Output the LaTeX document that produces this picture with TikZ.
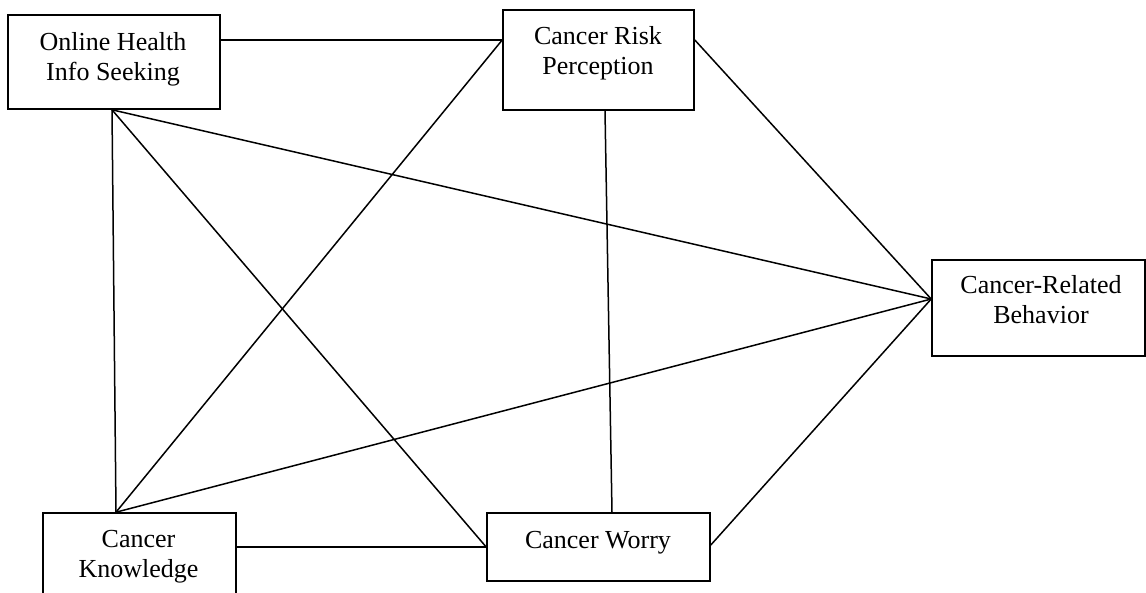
\documentclass[tikz,border=0pt]{standalone}
\usepackage{fontspec}
\setmainfont{Liberation Serif}
\begin{document}
\begin{tikzpicture}[x=1pt,y=-1pt,
  box/.style={draw=black,line width=1.6pt,rectangle,inner sep=0pt,fill=none},
  lbl/.style={inner sep=0pt,align=center,font=\fontsize{26}{30}\selectfont},
  conn/.style={draw=black,line width=1.5pt}]
\useasboundingbox (0,0) rectangle (1146,592);
\clip (0,0) rectangle (1146,592);
% boxes
\node[box,minimum width=212pt,minimum height=94pt] (on) at (114,62) {};
\node[box,minimum width=191pt,minimum height=100pt] (rp) at (598.5,60) {};
\node[box,minimum width=213pt,minimum height=96pt] (be) at (1038.5,308) {};
\node[box,minimum width=193pt,minimum height=100pt] (kn) at (139.5,563) {};
\node[box,minimum width=223pt,minimum height=68pt] (wo) at (598.5,547) {};
% labels
\node[lbl] (onT) at (113,59) {Online Health\\Info Seeking};
\node[lbl] (rpT) at (598,53) {Cancer Risk\\Perception};
\node[lbl] (beT) at (1041,299.5) {Cancer-Related\\Behavior};
\node[lbl] (knT) at (138.5,557) {Cancer\\Knowledge};
\node[lbl] (woT) at (598,542.5) {Cancer Worry};
% attachment points
\coordinate (onE) at ([yshift=22pt]on.east);
\coordinate (onS) at ([xshift=-2pt]on.south);
\coordinate (rpW) at ([yshift=20pt]rp.west);
\coordinate (rpE) at ([yshift=20pt]rp.east);
\coordinate (rpS) at ([xshift=6.5pt]rp.south);
\coordinate (beW) at ([yshift=9pt]be.west);
\coordinate (knN) at ([xshift=-23.5pt]kn.north);
\coordinate (knE) at ([yshift=16pt]kn.east);
\coordinate (woN) at ([xshift=13.5pt]wo.north);
\coordinate (woE) at ([yshift=2pt]wo.east);
% connectors
\draw[conn] (onE) -- (rpW);
\draw[conn] (onS) -- (knN);
\draw[conn] (onS) -- (wo.west);
\draw[conn] (onS) -- (beW);
\draw[conn] (rpW) -- (knN);
\draw[conn] (rpS) -- (woN);
\draw[conn] (rpE) -- (beW);
\draw[conn] (knN) -- (beW);
\draw[conn] (knE) -- (wo.west);
\draw[conn] (woE) -- (beW);
\end{tikzpicture}
\end{document}
